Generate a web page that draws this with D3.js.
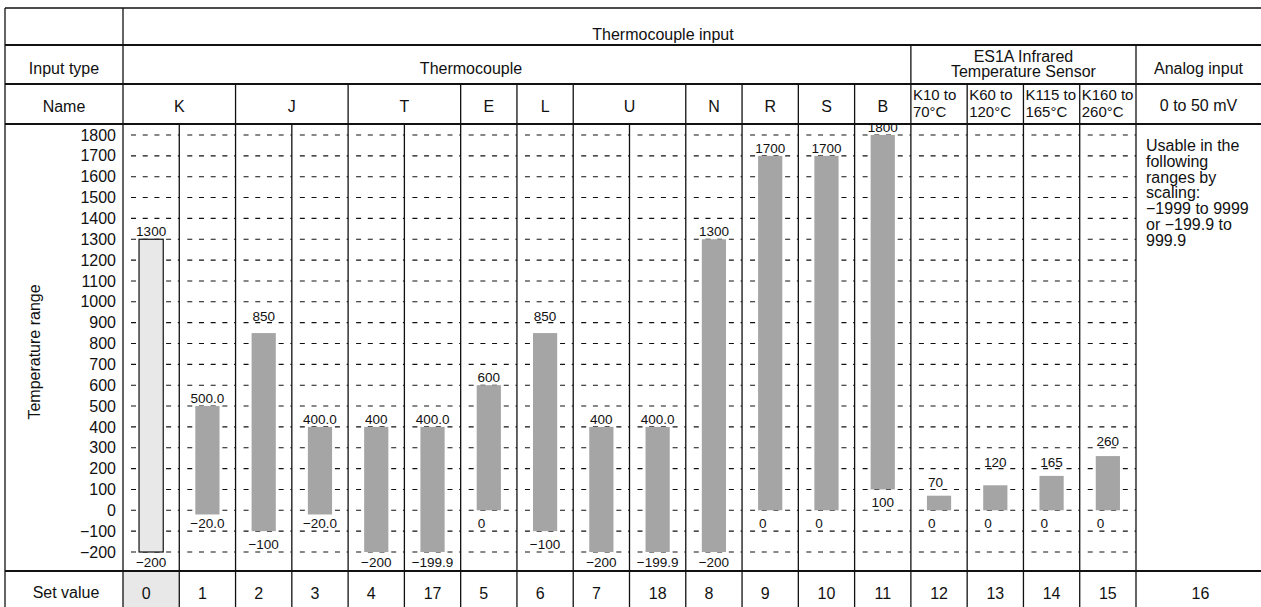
<!DOCTYPE html>
<html>
<head>
<meta charset="utf-8">
<script src="https://cdn.jsdelivr.net/npm/d3@7"></script>
<style>
  html, body { margin: 0; padding: 0; background: #fff; }
  svg { display: block; font-family: Arial, "Liberation Sans", Helvetica, sans-serif; }
  text { fill: #111; }
</style>
</head>
<body>
<svg id="chart" width="1261" height="607"></svg>
<script>
(function () {
  'use strict';

  // one entry per column, left to right
  const setValues = ['0', '1', '2', '3', '4', '17', '5', '6', '7', '18', '8', '9', '10', '11', '12', '13', '14', '15'];
  const rangeHigh = [1300, 500, 850, 400, 400, 400, 600, 850, 400, 400, 1300, 1700, 1700, 1800, 70, 120, 165, 260];
  const rangeLow = [-200, -20, -100, -20, -200, -199.9, 0, -100, -200, -199.9, -200, 0, 0, 100, 0, 0, 0, 0];
  const highLabels = ['1300', '500.0', '850', '400.0', '400', '400.0', '600', '850', '400', '400.0', '1300', '1700', '1700', '1800', '70', '120', '165', '260'];
  const lowLabels = ['\u2212200', '\u221220.0', '\u2212100', '\u221220.0', '\u2212200', '\u2212199.9', '0', '\u2212100', '\u2212200', '\u2212199.9', '\u2212200', '0', '0', '100', '0', '0', '0', '0'];

  // thermocouple names and how many columns each spans
  const tcNames = ['K', 'J', 'T', 'E', 'L', 'U', 'N', 'R', 'S', 'B'];
  const tcSpans = [2, 2, 2, 1, 1, 2, 1, 1, 1, 1];
  const sensorNames = [['K10 to', '70\u00b0C'], ['K60 to', '120\u00b0C'], ['K115 to', '165\u00b0C'], ['K160 to', '260\u00b0C']];

  const yTicks = [1800, 1700, 1600, 1500, 1400, 1300, 1200, 1100, 1000, 900, 800, 700, 600, 500, 400, 300, 200, 100, 0, -100, -200];
  const analogNote = ['Usable in the', 'following', 'ranges by', 'scaling:', '\u22121999 to 9999', 'or \u2212199.9 to', '999.9'];

  const W = 1261, H = 607;
  const left = 5, colStart = 123, colEnd = 1136, right = W;
  const rows = [8, 45, 84, 124, 571];
  const ink = '#111';

  const svg = d3.select('#chart');

  const x = d3.scaleBand().domain(setValues).range([colStart, colEnd]);
  const xb = d3.scaleBand().domain(setValues).range([colStart, colEnd]).paddingInner(0.57).paddingOuter(0.285);
  const y = d3.scaleLinear().domain([-200, 1800]).range([552, 135]);
  const bw = x.bandwidth();
  const colX = i => x(setValues[i]);

  // shaded set-value cell for column 0
  svg.append('rect')
    .attr('x', x('0')).attr('y', rows[4]).attr('width', bw).attr('height', H - rows[4])
    .attr('fill', '#e8e8e8');

  // dashed grid per column
  const gGrid = svg.append('g').attr('class', 'grid');
  setValues.forEach(c => {
    gGrid.selectAll(null).data(yTicks).join('line')
      .attr('x1', x(c) + 8).attr('x2', x(c) + bw)
      .attr('y1', d => y(d)).attr('y2', d => y(d))
      .attr('stroke', ink).attr('stroke-width', 1.1)
      .attr('stroke-dasharray', '5,6.7');
  });

  // bars
  const cols = setValues.map((c, i) => ({ c, i, hi: rangeHigh[i], lo: rangeLow[i], hl: highLabels[i], ll: lowLabels[i] }));
  svg.append('g').selectAll('rect').data(cols).join('rect')
    .attr('x', d => xb(d.c)).attr('width', xb.bandwidth())
    .attr('y', d => y(d.hi)).attr('height', d => y(d.lo) - y(d.hi))
    .attr('fill', d => d.i === 0 ? '#e8e8e8' : '#a5a5a5')
    .attr('stroke', d => d.i === 0 ? ink : 'none')
    .attr('stroke-width', 1.2);

  // value labels snap onto the nearest grid line outside the bar
  function highBase(v) {
    const g = Math.ceil(v / 100) * 100;
    return g === v ? y(v) - 3 : y(g) - 2;
  }
  function lowBase(v) {
    const g = Math.floor((v - 1) / 100) * 100;
    return g < -200 ? y(-200) + 15 : y(g) - 3;
  }
  function labelX(d, s) {
    return s.length <= 2 ? xb(d.c) + 1 : xb(d.c) + xb.bandwidth() / 2;
  }
  const gLab = svg.append('g').attr('font-size', 13.5);
  gLab.selectAll('text.hi').data(cols).join('text').attr('class', 'hi')
    .attr('x', d => labelX(d, d.hl)).attr('y', d => highBase(d.hi))
    .attr('text-anchor', d => d.hl.length <= 2 ? 'start' : 'middle')
    .text(d => d.hl);
  gLab.selectAll('text.lo').data(cols).join('text').attr('class', 'lo')
    .attr('x', d => labelX(d, d.ll)).attr('y', d => lowBase(d.lo))
    .attr('text-anchor', d => d.ll.length <= 2 ? 'start' : 'middle')
    .text(d => d.ll);

  // y axis labels
  svg.append('g')
    .attr('transform', 'translate(116,0)')
    .call(d3.axisLeft(y).tickValues(yTicks).tickFormat(d3.format('d')).tickSize(0).tickPadding(0))
    .call(g => g.select('.domain').remove())
    .attr('font-family', null).attr('font-size', 16);

  svg.append('text')
    .attr('transform', 'translate(40,352) rotate(-90)')
    .attr('text-anchor', 'middle').attr('font-size', 16)
    .text('Temperature range');

  // table lines
  const gLines = svg.append('g').attr('stroke', ink);
  rows.forEach((ry, k) => {
    gLines.append('line').attr('x1', left).attr('x2', right).attr('y1', ry).attr('y2', ry)
      .attr('stroke-width', k === 0 ? 1.4 : 1.8);
  });
  function vline(xx, y1) {
    gLines.append('line').attr('x1', xx).attr('x2', xx).attr('y1', y1).attr('y2', H)
      .attr('stroke-width', 1.3);
  }
  vline(left, rows[0]);
  vline(colStart, rows[0]);
  vline(colX(14), rows[1]);
  vline(colEnd, rows[1]);

  let idx = 0;
  const gHead = svg.append('g').attr('font-size', 16).attr('text-anchor', 'middle');
  tcNames.forEach((n, k) => {
    const a = colX(idx), b = colX(idx) + bw * tcSpans[k];
    if (idx > 0) vline(a, rows[2]);
    for (let s = 1; s < tcSpans[k]; s++) vline(colX(idx + s), rows[3]);
    gHead.append('text').attr('x', (a + b) / 2).attr('y', 112).text(n);
    idx += tcSpans[k];
  });
  sensorNames.forEach((lines, k) => {
    const a = colX(idx + k);
    if (k > 0) vline(a, rows[2]);
    lines.forEach((t, j) => {
      svg.append('text').attr('x', a + 2).attr('y', 100 + j * 16.5)
        .attr('font-size', 15).text(t);
    });
  });

  // header text
  gHead.append('text').attr('x', 663).attr('y', 39.5).text('Thermocouple input');
  gHead.append('text').attr('x', 64).attr('y', 74).text('Input type');
  gHead.append('text').attr('x', 471).attr('y', 74).text('Thermocouple');
  gHead.append('text').attr('x', (colX(14) + colEnd) / 2).attr('y', 62).text('ES1A Infrared');
  gHead.append('text').attr('x', (colX(14) + colEnd) / 2).attr('y', 77).text('Temperature Sensor');
  gHead.append('text').attr('x', (colEnd + right) / 2).attr('y', 74).text('Analog input');
  gHead.append('text').attr('x', 64).attr('y', 112).text('Name');
  gHead.append('text').attr('x', (colEnd + right) / 2).attr('y', 111).text('0 to 50 mV');

  // analog note
  svg.append('g').attr('font-size', 16).selectAll('text').data(analogNote).join('text')
    .attr('x', colEnd + 10).attr('y', (d, i) => 151 + i * 15.8)
    .text(d => d);

  // set value row
  gHead.append('text').attr('x', 66).attr('y', 598).text('Set value');
  gHead.selectAll('text.sv').data(setValues).join('text').attr('class', 'sv')
    .attr('x', d => x(d) + bw / 2 - (d.length === 1 ? 5 : 0)).attr('y', 599)
    .text(d => d);
  gHead.append('text').attr('x', (colEnd + right) / 2 + 2).attr('y', 599).text('16');
})();
</script>
</body>
</html>
